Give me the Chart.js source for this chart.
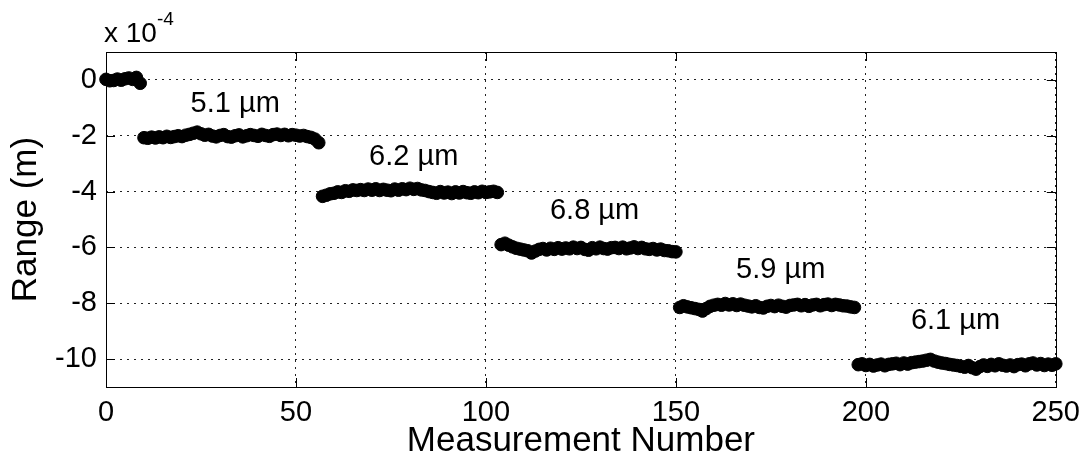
<!DOCTYPE html>
<html>
<head>
<meta charset="utf-8">
<title>Range vs Measurement Number</title>
<script src="https://cdn.jsdelivr.net/npm/chart.js@4.4.1/dist/chart.umd.min.js"></script>
<style>
    html, body { margin: 0; padding: 0; background: #fff; }
    #wrap { width: 1089px; height: 464px; }
</style>
</head>
<body>
<div id="wrap"><canvas id="rangeChart" width="1089" height="464"></canvas></div>
<script>
// range values in units of 1e-4 m, one array per step
const seg1Start = 0;
const seg1 = [0.02, -0.03, -0.02, 0.03, -0.01, 0.04, 0.07, 0.02, 0.09, -0.12];

const seg2Start = 10;
const seg2 = [-2.07, -2.09, -2.05, -2.08, -2.04, -2.07, -2.02, -2.06, -2.03, -2.00,
    -2.03, -1.98, -1.95, -1.91, -1.87, -1.93, -1.98, -1.95, -2.01, -2.04,
    -1.99, -1.96, -2.03, -2.05, -2.00, -1.97, -2.04, -2.00, -1.96, -1.99,
    -2.02, -1.95, -1.99, -2.02, -1.96, -1.94, -1.99, -1.95, -2.00, -1.96,
    -1.98, -2.01, -1.99, -2.03, -2.06, -2.12, -2.25];

const seg3Start = 57;
const seg3 = [-4.17, -4.13, -4.08, -4.06, -4.01, -4.03, -3.97, -3.99, -3.94, -3.96,
    -3.93, -3.96, -3.91, -3.95, -3.90, -3.96, -3.92, -3.95, -3.97, -3.91,
    -3.95, -3.90, -3.93, -3.88, -3.92, -3.89, -3.94, -3.96, -4.00, -4.03,
    -4.06, -4.00, -4.05, -4.02, -4.07, -4.01, -4.05, -4.00, -4.04, -4.06,
    -4.01, -4.04, -3.99, -4.03, -4.01, -3.99, -4.03];

const seg4Start = 104;
const seg4 = [-5.90, -5.85, -5.92, -5.98, -6.03, -6.06, -6.09, -6.12, -6.20, -6.13,
    -6.07, -6.04, -6.09, -6.03, -6.07, -6.01, -6.06, -6.02, -6.05, -5.99,
    -6.04, -6.00, -6.07, -6.10, -6.01, -6.05, -5.99, -6.04, -6.06, -6.01,
    -6.00, -6.04, -5.99, -6.05, -6.02, -5.98, -6.04, -6.00, -6.05, -6.07,
    -6.04, -6.09, -6.06, -6.11, -6.12, -6.15, -6.16];

const seg5Start = 151;
const seg5 = [-8.15, -8.09, -8.13, -8.16, -8.19, -8.22, -8.28, -8.19, -8.11, -8.07,
    -8.04, -8.07, -8.01, -8.06, -8.02, -8.08, -8.03, -8.07, -8.10, -8.13,
    -8.09, -8.15, -8.17, -8.11, -8.08, -8.12, -8.07, -8.11, -8.14, -8.08,
    -8.06, -8.04, -8.09, -8.05, -8.11, -8.06, -8.04, -8.09, -8.05, -8.03,
    -8.08, -8.04, -8.06, -8.09, -8.10, -8.13, -8.15];

const seg6Start = 198;
const seg6 = [-10.20, -10.17, -10.23, -10.19, -10.25, -10.21, -10.18, -10.24, -10.19, -10.17,
    -10.15, -10.20, -10.14, -10.18, -10.13, -10.11, -10.09, -10.07, -10.04, -10.01,
    -10.07, -10.11, -10.14, -10.16, -10.19, -10.21, -10.23, -10.26, -10.29, -10.23,
    -10.31, -10.36, -10.27, -10.21, -10.26, -10.19, -10.24, -10.17, -10.22, -10.25,
    -10.21, -10.27, -10.20, -10.18, -10.24, -10.17, -10.14, -10.21, -10.16, -10.23,
    -10.18, -10.22, -10.17];

// step size labels and where they sit (data coords)
const stepLabels = ['5.1 µm', '6.2 µm', '6.8 µm', '5.9 µm', '6.1 µm'];
const stepLabelX = [34, 81, 128.6, 177.6, 223.6];
const stepLabelY = [-1.16, -3.04, -4.99, -7.08, -8.91];

const xTickValues = [0, 50, 100, 150, 200, 250];
const yTickValues = [-10, -8, -6, -4, -2, 0];

const FONT = '"Liberation Sans", Arial, Helvetica, sans-serif';

document.addEventListener('DOMContentLoaded', function () {
    const segments = [[seg1Start, seg1], [seg2Start, seg2], [seg3Start, seg3],
        [seg4Start, seg4], [seg5Start, seg5], [seg6Start, seg6]];
    const points = [];
    segments.forEach(function (s) {
        s[1].forEach(function (v, i) {
            points.push({ x: s[0] + i, y: v });
        });
    });

    // box, inner ticks, exponent and step labels (matlab look)
    const matlabBox = {
        id: 'matlabBox',
        afterDraw(chart) {
            const c = chart.ctx;
            const a = chart.chartArea;
            const xs = chart.scales.x;
            const ys = chart.scales.y;
            const tl = 9;
            c.save();
            c.strokeStyle = '#000';
            c.lineWidth = 1;
            c.strokeRect(Math.round(a.left) + 0.5, Math.round(a.top) + 0.5,
                Math.round(a.right - a.left), Math.round(a.bottom - a.top));
            c.beginPath();
            xTickValues.forEach(function (v) {
                const px = Math.round(xs.getPixelForValue(v)) + 0.5;
                c.moveTo(px, a.bottom); c.lineTo(px, a.bottom - tl);
                c.moveTo(px, a.top); c.lineTo(px, a.top + tl);
            });
            yTickValues.forEach(function (v) {
                const py = Math.round(ys.getPixelForValue(v)) + 0.5;
                c.moveTo(a.left, py); c.lineTo(a.left + tl, py);
                c.moveTo(a.right, py); c.lineTo(a.right - tl, py);
            });
            c.stroke();

            c.fillStyle = '#000';
            c.textAlign = 'left';
            c.textBaseline = 'alphabetic';
            c.font = '28px ' + FONT;
            c.fillText('x 10', 104, 42);
            c.font = '19px ' + FONT;
            c.fillText('-4', 157, 25);

            c.font = '29px ' + FONT;
            c.textAlign = 'center';
            stepLabels.forEach(function (t, i) {
                c.fillText(t, xs.getPixelForValue(stepLabelX[i]), ys.getPixelForValue(stepLabelY[i]));
            });
            c.restore();
        }
    };

    const ctx = document.getElementById('rangeChart').getContext('2d');

    const rangeChart = new Chart(ctx, {
        type: 'scatter',
        data: {
            datasets: [{
                label: 'Range',
                data: points,
                pointRadius: 6.3,
                pointBorderWidth: 1,
                pointBackgroundColor: '#000',
                pointBorderColor: '#000',
                showLine: false,
                clip: false
            }]
        },
        options: {
            responsive: false,
            animation: false,
            layout: {
                padding: { left: 0, top: 52, right: 32, bottom: 0 }
            },
            plugins: {
                legend: { display: false },
                tooltip: { enabled: false }
            },
            scales: {
                x: {
                    type: 'linear',
                    min: 0,
                    max: 250,
                    afterBuildTicks: function (scale) {
                        scale.ticks = xTickValues.map(v => ({ value: v }));
                    },
                    afterFit: function (scale) { scale.height = 77; },
                    grid: { color: '#222', lineWidth: 1, drawTicks: false },
                    border: { display: false, dash: [2, 5] },
                    ticks: {
                        color: '#000',
                        padding: 9,
                        maxRotation: 0,
                        font: { family: FONT, size: 29 }
                    },
                    title: {
                        display: true,
                        text: 'Measurement Number',
                        color: '#000',
                        padding: { top: 0, bottom: 2 },
                        font: { family: FONT, size: 35 }
                    }
                },
                y: {
                    type: 'linear',
                    min: -11,
                    max: 1,
                    afterBuildTicks: function (scale) {
                        scale.ticks = yTickValues.map(v => ({ value: v }));
                    },
                    afterFit: function (scale) { scale.width = 106; },
                    grid: { color: '#222', lineWidth: 1, drawTicks: false },
                    border: { display: false, dash: [2, 5] },
                    ticks: {
                        color: '#000',
                        padding: 9,
                        font: { family: FONT, size: 29 }
                    },
                    title: {
                        display: true,
                        text: 'Range (m)',
                        color: '#000',
                        padding: { top: 5, bottom: 0 },
                        font: { family: FONT, size: 35 }
                    }
                }
            }
        },
        plugins: [matlabBox]
    });
});
</script>
</body>
</html>
